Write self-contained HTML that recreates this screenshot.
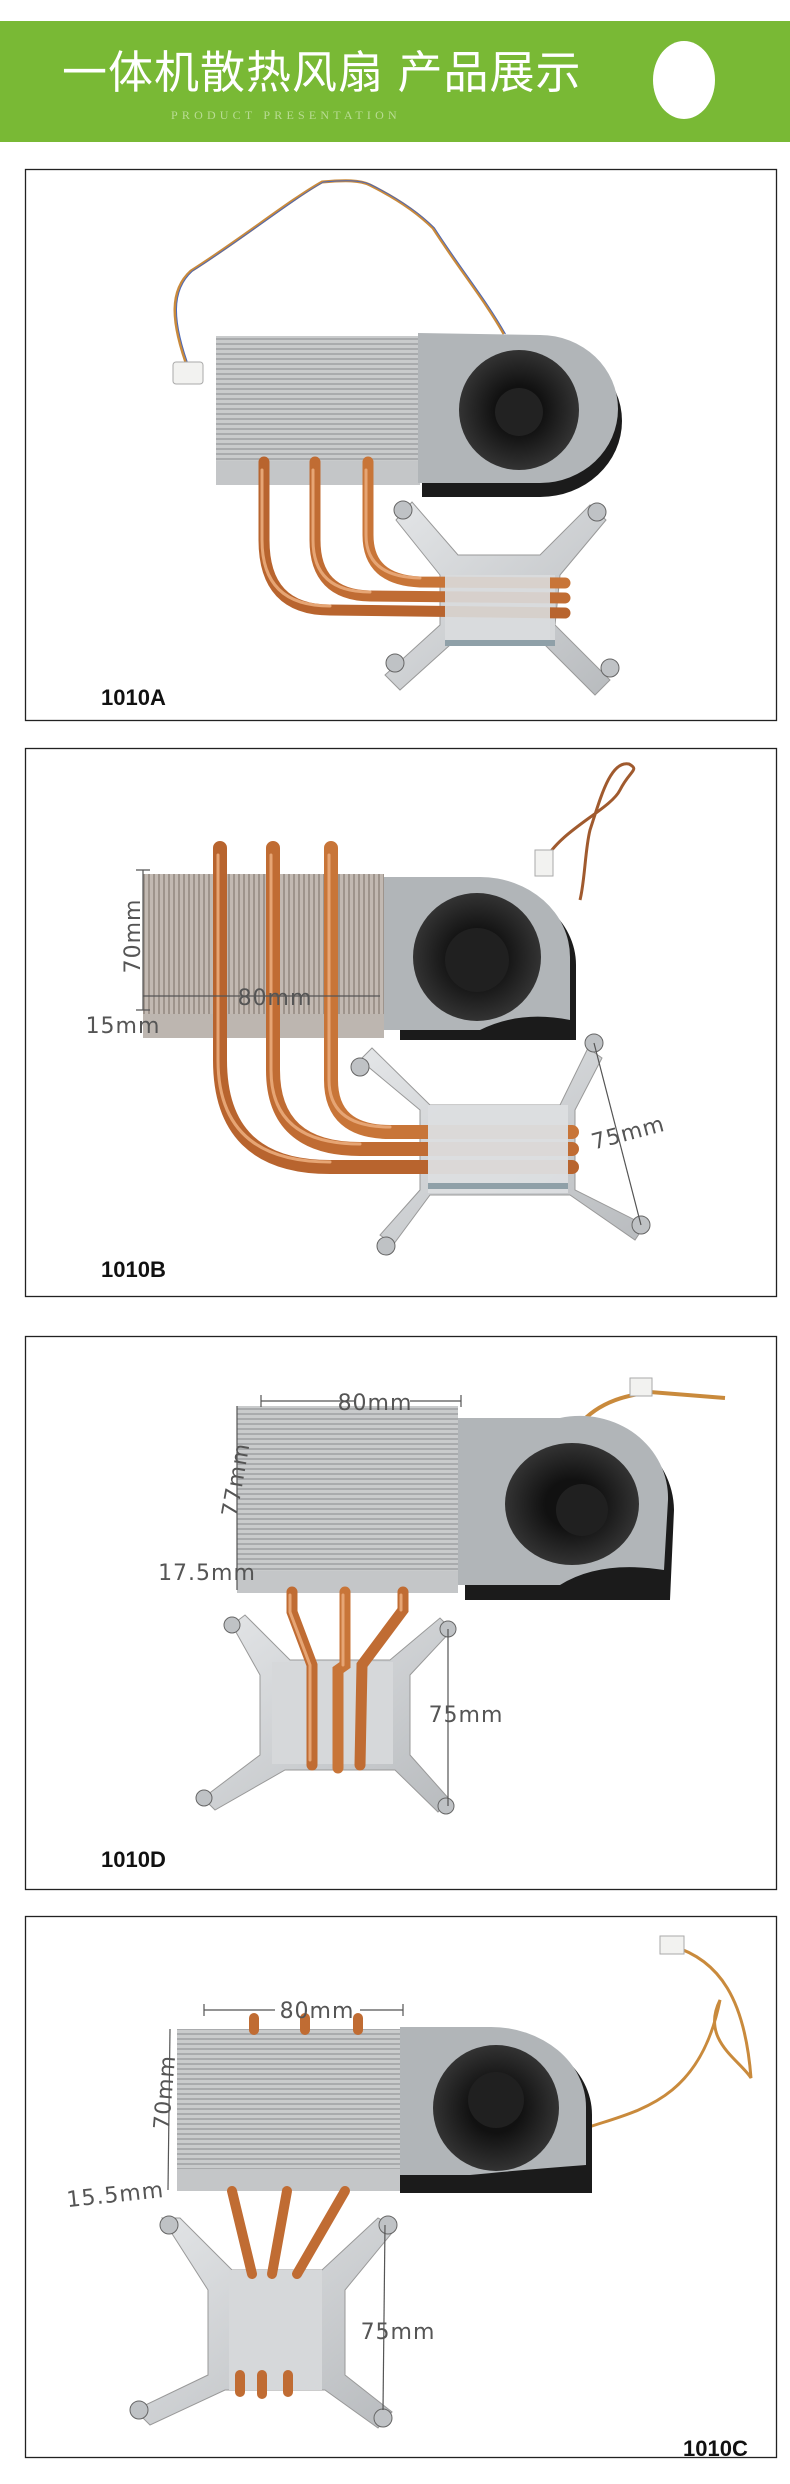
<!DOCTYPE html>
<html><head><meta charset="utf-8"><style>
html,body{margin:0;padding:0;background:#fff;}
svg{display:block;}
.lbl{font-family:"Liberation Sans",sans-serif;font-weight:bold;font-size:22px;fill:#111;}
.dim{font-family:"DejaVu Sans","Liberation Sans",sans-serif;font-size:22px;fill:#555;letter-spacing:1px;}
</style></head><body>
<svg width="790" height="2484" viewBox="0 0 790 2484" xmlns="http://www.w3.org/2000/svg">
<defs>
<pattern id="finH" width="6" height="5" patternUnits="userSpaceOnUse"><rect width="6" height="5" fill="#c9cbcc"/><rect y="3" width="6" height="2" fill="#a9abad"/></pattern>
<pattern id="finV" width="5" height="6" patternUnits="userSpaceOnUse"><rect width="5" height="6" fill="#c2b9b2"/><rect x="3" width="2" height="6" fill="#9e948c"/></pattern>
<radialGradient id="fanG"><stop offset="0.4" stop-color="#111"/><stop offset="1" stop-color="#333"/></radialGradient>
<linearGradient id="alu" x1="0" y1="0" x2="1" y2="1"><stop offset="0" stop-color="#e4e6e8"/><stop offset="1" stop-color="#b8bbbe"/></linearGradient>
</defs>

<!-- Header -->
<rect x="0" y="21" width="790" height="121" fill="#79b935"/>
<text x="62" y="88" font-family="'Liberation Sans','Noto Sans CJK SC',sans-serif" font-size="45" fill="#fff" letter-spacing="1">一体机散热风扇 产品展示</text>
<text x="171" y="119" font-family="'Liberation Serif',serif" font-size="12" fill="#b9dc94" letter-spacing="4.2">PRODUCT PRESENTATION</text>
<ellipse cx="684" cy="80" rx="31" ry="39" fill="#fff"/>

<!-- Panel frames -->
<rect x="25.5" y="169.5" width="751" height="551" fill="none" stroke="#222" stroke-width="1.3"/>
<rect x="25.5" y="748.5" width="751" height="548" fill="none" stroke="#222" stroke-width="1.3"/>
<rect x="25.5" y="1336.5" width="751" height="553" fill="none" stroke="#222" stroke-width="1.3"/>
<rect x="25.5" y="1916.5" width="751" height="541" fill="none" stroke="#222" stroke-width="1.3"/>

<!-- ===== Panel 1: 1010A ===== -->
<path d="M189,371 C170,320 170,290 191,271 C240,240 290,200 322,182 C345,180 360,180 370,185 C400,200 420,215 433,228 C460,270 485,300 504,334" fill="none" stroke="#c98a3c" stroke-width="3"/>
<path d="M189,371 C170,320 170,290 191,271 C240,240 290,200 322,182 C345,180 360,180 370,185 C400,200 420,215 433,228 C460,270 485,300 504,334" fill="none" stroke="#4a67b8" stroke-width="1" transform="translate(1.5,0)"/>
<rect x="173" y="362" width="30" height="22" rx="3" fill="#f2f2f0" stroke="#aaa"/>
<path d="M396,520 L412,502 L458,555 L540,555 L590,505 L606,520 L560,575 L555,625 L610,680 L595,695 L545,645 L450,645 L400,690 L385,675 L440,625 L440,575 Z" fill="url(#alu)" stroke="#999"/>
<rect x="445" y="575" width="110" height="70" fill="#d6d8da"/>
<rect x="445" y="640" width="110" height="6" fill="#8fa0a8"/>
<rect x="216" y="336" width="204" height="125" fill="url(#finH)"/>
<rect x="216" y="461" width="204" height="24" fill="#c4c6c8"/>
<g fill="none" stroke-linecap="round">
<path d="M264,462 L264,540 Q264,610 330,610 L565,613" stroke="#b8642e" stroke-width="11"/>
<path d="M315,462 L315,540 Q315,595 370,596 L565,598" stroke="#c06c33" stroke-width="11"/>
<path d="M368,462 L368,535 Q368,580 420,582 L565,583" stroke="#c87538" stroke-width="11"/>
<path d="M262,470 L262,540 Q262,606 330,606" stroke="#e6a574" stroke-width="3"/>
<path d="M313,470 L313,540 Q313,592 370,592" stroke="#e6a574" stroke-width="3"/>
<path d="M366,470 L366,535 Q366,577 420,578" stroke="#e6a574" stroke-width="3"/>
</g>
<rect x="445" y="575" width="105" height="65" fill="#d9dbdd" opacity="0.9"/>
<path d="M422,345 L540,345 A82,76 0 0 1 540,497 L422,497 Z" fill="#1b1b1b"/>
<path d="M418,333 L540,335 A78,74 0 0 1 540,483 L418,483 Z" fill="#b1b5b8"/>
<circle cx="519" cy="410" r="60" fill="url(#fanG)"/>
<circle cx="519" cy="412" r="24" fill="#222"/>
<g fill="#bfc2c5" stroke="#666"><circle cx="403" cy="510" r="9"/><circle cx="597" cy="512" r="9"/><circle cx="395" cy="663" r="9"/><circle cx="610" cy="668" r="9"/></g>
<text class="lbl" x="101" y="705">1010A</text>

<!-- ===== Panel 2: 1010B ===== -->
<path d="M544,862 C560,830 610,810 620,790 C630,770 640,770 629,764 C610,760 600,800 590,830 C585,850 585,880 580,900" fill="none" stroke="#a05a2e" stroke-width="3"/>
<rect x="535" y="850" width="18" height="26" fill="#f2f2f0" stroke="#aaa"/>
<path d="M360,1060 L372,1048 L430,1105 L560,1105 L588,1048 L602,1058 L575,1110 L575,1190 L645,1225 L635,1240 L570,1195 L430,1195 L393,1245 L380,1235 L420,1190 L420,1110 Z" fill="url(#alu)" stroke="#999"/>
<rect x="143" y="874" width="241" height="140" fill="url(#finV)"/>
<rect x="143" y="1014" width="241" height="24" fill="#bdb6b0"/>
<g fill="none" stroke-linecap="round">
<path d="M220,848 L220,1060 Q220,1167 330,1167 L572,1167" stroke="#b8642e" stroke-width="14"/>
<path d="M273,848 L273,1070 Q273,1149 360,1149 L572,1149" stroke="#c06c33" stroke-width="14"/>
<path d="M331,848 L331,1080 Q331,1132 390,1132 L572,1132" stroke="#c87538" stroke-width="14"/>
<path d="M218,855 L218,1060 Q218,1162 330,1162" stroke="#e6a574" stroke-width="3"/>
<path d="M271,855 L271,1070 Q271,1144 360,1144" stroke="#e6a574" stroke-width="3"/>
<path d="M329,855 L329,1080 Q329,1127 390,1127" stroke="#e6a574" stroke-width="3"/>
</g>
<rect x="428" y="1105" width="140" height="88" fill="#dcdee0" opacity="0.95"/>
<rect x="428" y="1183" width="140" height="6" fill="#8fa0a8"/>
<path d="M400,885 L480,885 A94,80 0 0 1 576,965 L576,1040 L400,1040 Z" fill="#1b1b1b"/>
<path d="M384,877 L480,877 A90,80 0 0 1 570,957 L570,1020 Q520,1010 480,1030 L420,1030 L384,1030 Z" fill="#b1b5b8"/>
<circle cx="477" cy="957" r="64" fill="url(#fanG)"/>
<circle cx="477" cy="960" r="32" fill="#202020"/>
<g fill="#bfc2c5" stroke="#666"><circle cx="360" cy="1067" r="9"/><circle cx="594" cy="1043" r="9"/><circle cx="386" cy="1246" r="9"/><circle cx="641" cy="1225" r="9"/></g>
<g stroke="#555" stroke-width="1.2" fill="none"><path d="M143,870 L143,1010 M136,870 L150,870 M136,1010 L150,1010"/><path d="M143,996 L380,996"/><path d="M594,1043 L641,1225"/></g>
<text class="dim" transform="translate(140,936) rotate(-90)" text-anchor="middle" font-size="24">70mm</text>
<text class="dim" x="275" y="1005" text-anchor="middle" font-size="24">80mm</text>
<text class="dim" x="123" y="1033" text-anchor="middle" font-size="22">15mm</text>
<text class="dim" transform="translate(630,1140) rotate(-15)" text-anchor="middle" font-size="22">75mm</text>
<text class="lbl" x="101" y="1277">1010B</text>

<!-- ===== Panel 3: 1010D ===== -->
<path d="M579,1425 C600,1400 630,1395 650,1392 L725,1398" fill="none" stroke="#c98a3c" stroke-width="4"/>
<rect x="630" y="1378" width="22" height="18" fill="#f2f2f0" stroke="#aaa"/>
<path d="M232,1625 L245,1615 L290,1660 L390,1660 L440,1618 L452,1630 L410,1675 L410,1755 L450,1800 L438,1812 L395,1770 L285,1770 L215,1810 L203,1798 L260,1755 L260,1675 Z" fill="url(#alu)" stroke="#999"/>
<rect x="272" y="1662" width="121" height="102" fill="#d6d8da"/>
<rect x="237" y="1406" width="221" height="165" fill="url(#finH)"/>
<rect x="237" y="1571" width="221" height="22" fill="#c4c6c8"/>
<g fill="none" stroke-linecap="round">
<path d="M292,1592 L292,1612 L312,1665 L312,1765" stroke="#c06c33" stroke-width="11"/>
<path d="M345,1592 L345,1665 L338,1670 L338,1768" stroke="#c87538" stroke-width="11"/>
<path d="M403,1592 L403,1610 L362,1665 L360,1765" stroke="#c06c33" stroke-width="11"/>
<path d="M290,1595 L290,1612 L310,1665 L310,1760 M343,1595 L343,1665 M401,1595 L401,1610" stroke="#e6a574" stroke-width="3"/>
</g>
<path d="M465,1428 L560,1428 A90,86 0 0 1 674,1510 L670,1600 L465,1600 Z" fill="#1b1b1b"/>
<path d="M458,1418 L560,1418 A88,82 0 0 1 668,1500 L664,1570 Q600,1560 560,1585 L458,1585 Z" fill="#b1b5b8"/>
<ellipse cx="572" cy="1504" rx="67" ry="61" fill="url(#fanG)"/>
<circle cx="582" cy="1510" r="26" fill="#202020"/>
<g fill="#bfc2c5" stroke="#666"><circle cx="232" cy="1625" r="8"/><circle cx="448" cy="1629" r="8"/><circle cx="204" cy="1798" r="8"/><circle cx="446" cy="1806" r="8"/></g>
<g stroke="#555" stroke-width="1.2" fill="none"><path d="M261,1401 L355,1401 M410,1401 L461,1401 M261,1395 L261,1407 M461,1395 L461,1407"/><path d="M237,1406 L237,1590"/><path d="M448,1629 L448,1806"/></g>
<text class="dim" x="375" y="1410" text-anchor="middle">80mm</text>
<text class="dim" transform="translate(243,1481) rotate(-80)" text-anchor="middle">77mm</text>
<text class="dim" x="207" y="1580" text-anchor="middle" font-size="20">17.5mm</text>
<text class="dim" x="466" y="1722" text-anchor="middle" font-size="20">75mm</text>
<text class="lbl" x="101" y="1867">1010D</text>

<!-- ===== Panel 4: 1010C ===== -->
<path d="M672,1946 C720,1960 745,2000 751,2078 C740,2060 700,2040 720,2000 C700,2100 640,2110 589,2127" fill="none" stroke="#c98a3c" stroke-width="3"/>
<rect x="660" y="1936" width="24" height="18" fill="#f2f2f0" stroke="#aaa"/>
<path d="M162,2218 L180,2218 L232,2270 L322,2270 L378,2218 L396,2228 L345,2290 L345,2375 L392,2412 L378,2428 L325,2390 L225,2390 L150,2425 L135,2410 L208,2375 L208,2290 Z" fill="url(#alu)" stroke="#999"/>
<rect x="229" y="2270" width="93" height="120" fill="#d6d8da"/>
<rect x="177" y="2029" width="229" height="140" fill="url(#finH)"/>
<rect x="177" y="2169" width="229" height="22" fill="#c4c6c8"/>
<g fill="none" stroke-linecap="round" stroke="#c06c33" stroke-width="10">
<path d="M254,2018 L254,2030 M305,2018 L305,2030 M358,2018 L358,2030"/>
<path d="M232,2191 L252,2274"/><path d="M287,2191 L272,2274"/><path d="M345,2191 L297,2274"/>
<path d="M240,2375 L240,2392 M262,2375 L262,2394 M288,2375 L288,2392"/>
</g>
<path d="M400,2035 L490,2035 A95,80 0 0 1 592,2115 L592,2193 L400,2193 Z" fill="#1b1b1b"/>
<path d="M400,2027 L490,2027 A95,80 0 0 1 586,2107 L586,2165 Q520,2170 470,2175 L400,2175 Z" fill="#b1b5b8"/>
<circle cx="496" cy="2108" r="63" fill="url(#fanG)"/>
<circle cx="496" cy="2100" r="28" fill="#202020"/>
<g fill="#bfc2c5" stroke="#666"><circle cx="169" cy="2225" r="9"/><circle cx="388" cy="2225" r="9"/><circle cx="139" cy="2410" r="9"/><circle cx="383" cy="2418" r="9"/></g>
<g stroke="#555" stroke-width="1.2" fill="none"><path d="M204,2010 L275,2010 M360,2010 L403,2010 M204,2004 L204,2016 M403,2004 L403,2016"/><path d="M170,2029 L168,2190"/><path d="M385,2225 L383,2410"/></g>
<text class="dim" x="317" y="2018" text-anchor="middle">80mm</text>
<text class="dim" transform="translate(172,2093) rotate(-85)" text-anchor="middle">70mm</text>
<text class="dim" transform="translate(116,2202) rotate(-6)" text-anchor="middle" font-size="21">15.5mm</text>
<text class="dim" x="398" y="2339" text-anchor="middle" font-size="21">75mm</text>
<text class="lbl" x="683" y="2456">1010C</text>
</svg>
</body></html>
